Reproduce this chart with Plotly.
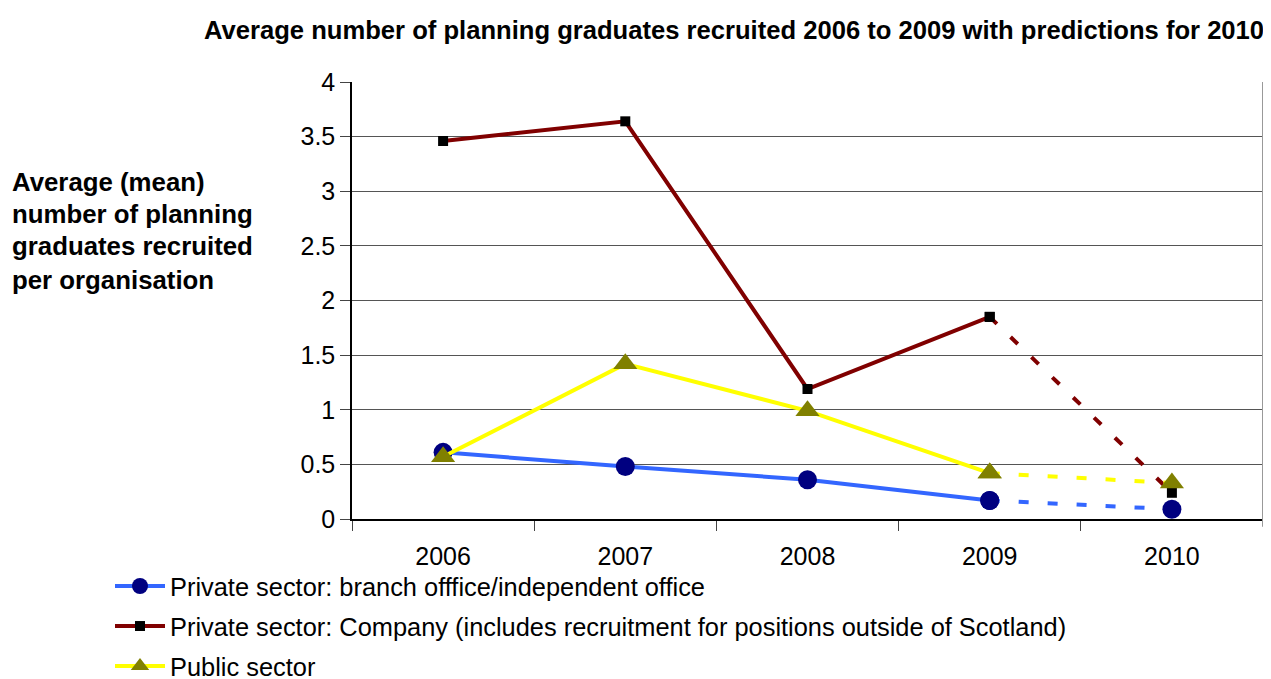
import plotly.graph_objects as go

years = ["2006", "2007", "2008", "2009", "2010"]
branch = [0.61, 0.48, 0.36, 0.17, 0.09]
company = [3.46, 3.64, 1.19, 1.85, 0.24]
public = [0.57, 1.42, 0.99, 0.42, 0.33]

names = [
    "Private sector: branch offfice/independent office",
    "Private sector: Company (includes recruitment for positions outside of Scotland)",
    "Public sector",
]
line_colors = ["#3366FF", "#800000", "#FFFF00"]
marker_colors = ["#000080", "#000000", "#808000"]
symbols = ["circle", "square", "triangle-up"]
msizes = [19, 10, 21]
series = [branch, company, public]

FONT = "Liberation Sans, Arial, sans-serif"

fig = go.Figure()
for vals, nm, lc, mc, sym, ms in zip(series, names, line_colors, marker_colors, symbols, msizes):
    # observed (solid) part
    fig.add_trace(go.Scatter(
        x=years[:4], y=vals[:4], name=nm, mode="lines+markers",
        line=dict(color=lc, width=4),
        marker=dict(color=mc, symbol=sym, size=ms, line=dict(width=0)),
        legendgroup=nm,
    ))
for vals, nm, lc, mc, sym, ms in zip(series, names, line_colors, marker_colors, symbols, msizes):
    # prediction (dashed) part
    fig.add_trace(go.Scatter(
        x=years[3:], y=vals[3:], name=nm, mode="lines+markers",
        line=dict(color=lc, width=4, dash="10px,19px"),
        marker=dict(color=mc, symbol=sym, size=ms, line=dict(width=0)),
        legendgroup=nm, showlegend=False,
    ))

# page has an 8px body margin, so the figure is 8px smaller and shifted
fig.update_layout(
    width=1263, height=671,
    margin=dict(l=344, r=8, t=74, b=160, autoexpand=False),
    paper_bgcolor="white", plot_bgcolor="white",
    font=dict(family=FONT, size=25, color="black"),
    showlegend=True,
    legend=dict(x=(110 - 352) / 911, y=-44 / 437, xanchor="left", yanchor="top",
                font=dict(size=25.4), tracegroupgap=4, itemwidth=50,
                bgcolor="rgba(0,0,0,0)"),
    xaxis=dict(
        type="category", tickson="boundaries", ticks="outside", ticklen=10,
        tickcolor="#444", showgrid=False, showline=True, linecolor="black",
        linewidth=1.5, tickfont=dict(size=25), range=[-0.5, 4.5],
        ticklabelstandoff=14,
    ),
    yaxis=dict(
        range=[0, 4], dtick=0.5, ticks="outside", ticklen=10, tickcolor="#444",
        showgrid=True, gridcolor="#555", gridwidth=1, showline=True,
        linecolor="black", linewidth=1.5, tickfont=dict(size=25),
        zeroline=False,
    ),
)

# right border of plot area
fig.add_shape(type="line", xref="paper", yref="paper", x0=1, x1=1, y0=-0.018, y1=1,
              line=dict(color="#999999", width=2))

fig.add_annotation(
    text="<b>Average number of planning graduates recruited 2006 to 2009 with predictions for 2010</b>",
    xref="paper", yref="paper", x=(1266 - 352) / 911, y=(519 - 30) / 437,
    xanchor="right", yanchor="middle",
    showarrow=False, font=dict(size=25.6, family=FONT),
)

ylines = ["Average (mean)", "number of planning", "graduates recruited", "per organisation"]
ypix = [182, 214, 246, 280]
for t, yp in zip(ylines, ypix):
    fig.add_annotation(
        text="<b>" + t + "</b>", xref="paper", yref="paper",
        x=(10 - 352) / 911, y=(519 - yp) / 437, xanchor="left", yanchor="middle",
        showarrow=False, font=dict(size=25.8, family=FONT), align="left",
    )

fig.write_html("out.html")
